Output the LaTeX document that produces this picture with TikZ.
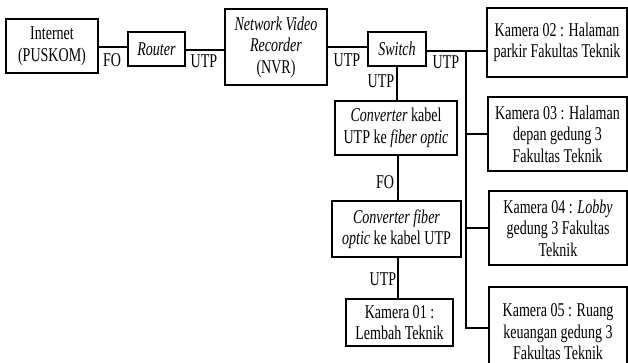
\documentclass[tikz,border=0pt]{standalone}
\usepackage{fontspec}
\setmainfont{Liberation Serif}[FakeStretch=0.72]
\begin{document}
\begin{tikzpicture}[x=1pt,y=-1pt,
  box/.style={draw,line width=1.4pt,inner sep=0pt,align=center,font=\fontsize{19.5}{21.5}\selectfont},
  conn/.style={line width=2pt},
  lbl/.style={inner sep=0pt,font=\fontsize{19.5}{21.5}\selectfont}]
\useasboundingbox (0,0) rectangle (628,363);
% boxes
\node[box,minimum width=92,minimum height=54] (inet) at (52,46) {Internet\\(PUSKOM)};
\node[box,minimum width=57,minimum height=34] (router) at (156.5,49) {\textit{Router}};
\node[box,minimum width=102,minimum height=76] (nvr) at (276,47) {\textit{Network Video}\\\textit{Recorder}\\(NVR)};
\node[box,minimum width=58,minimum height=34] (sw) at (397,49) {\textit{Switch}};
\node[box,minimum width=140,minimum height=69] (k02) at (557,42.5) {Kamera 02 : Halaman\\parkir Fakultas Teknik};
\node[box,minimum width=139,minimum height=74] (k03) at (557.5,134) {Kamera 03 : Halaman\\depan gedung 3\\Fakultas Teknik};
\node[box,minimum width=138,minimum height=74] (k04) at (558,228) {Kamera 04 : \textit{Lobby}\\gedung 3 Fakultas\\Teknik};
\node[box,minimum width=138,minimum height=90] (k05) at (558,332) {Kamera 05 : Ruang\\keuangan gedung 3\\Fakultas Teknik};
\node[box,minimum width=122,minimum height=54] (c1) at (396,128) {\textit{Converter} kabel\\UTP ke \textit{fiber optic}};
\node[box,minimum width=129,minimum height=56] (c2) at (396.5,229) {\textit{Converter fiber}\\\textit{optic} ke kabel UTP};
\node[box,minimum width=107,minimum height=47] (k01) at (399.5,322.5) {Kamera 01 :\\Lembah Teknik};
% connectors
\draw[conn] (inet.east |- 0,47) -- (router.west |- 0,47);
\draw[conn] (router.east |- 0,50) -- (nvr.west |- 0,50);
\draw[conn] (nvr.east |- 0,47) -- (sw.west |- 0,47);
\coordinate (bt) at (466,51);
\coordinate (bb) at (466,328);
\draw[conn] (sw.east |- bt) -- (k02.west |- bt);
\draw[conn] (bt) -- (bb) -- (k05.west |- bb);
\draw[conn] (bt |- k03.west) -- (k03.west);
\draw[conn] (bt |- k04.west) -- (k04.west);
\draw[conn] (sw.south) -- (sw.south |- c1.north);
\draw[conn] (c1.south -| 398,0) -- (c2.north -| 398,0);
\draw[conn] (c2.south -| 398,0) -- (k01.north -| 398,0);
% labels
\node[lbl] (lfo1) at (112,60) {FO};
\node[lbl] (lutp1) at (204,61) {UTP};
\node[lbl] (lutp2) at (347,60) {UTP};
\node[lbl] (lutp3) at (446,62) {UTP};
\node[lbl] (lutp4) at (381,81) {UTP};
\node[lbl] (lfo2) at (385,182) {FO};
\node[lbl] (lutp5) at (383,279) {UTP};
\end{tikzpicture}
\end{document}
